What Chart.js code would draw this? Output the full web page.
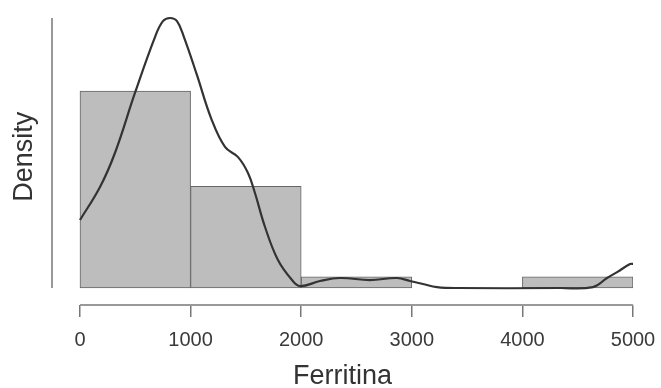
<!DOCTYPE html>
<html>
<head>
<meta charset="utf-8">
<script src="https://cdn.jsdelivr.net/npm/chart.js@4"></script>
<style>
  html, body { margin: 0; padding: 0; background: #fff; }
  canvas { display: block; }
</style>
</head>
<body>
<canvas id="histChart" width="661" height="388"></canvas>
<script>
const CHART = document.getElementById("histChart");

// histogram bins (Ferritina) and their densities
var binEdges = [0, 1000, 2000, 3000, 4000, 5000];
var binDensity = [0.00062, 0.00032, 0.000035, 0, 0.000035];

// kernel density curve, read along the x axis
var kdeX = [0, 181, 316, 497, 678, 750, 814, 877, 940, 1058, 1185, 1311, 1429, 1519, 1582,
            1673, 1790, 1917, 1990, 2170, 2351, 2622, 2866, 2984, 3101, 3228, 3409,
            4340, 4638, 4765, 4856, 4973, 5000];
var kdeY = [0.000214, 0.000318, 0.000425, 0.000614, 0.00079, 0.00084, 0.00085, 0.00084,
            0.00079, 0.00067, 0.000535, 0.000444, 0.000412, 0.000362, 0.000299,
            0.000192, 0.000088, 0.000025, 0.000006, 0.000022, 0.0000315, 0.000025,
            0.0000315, 0.000022, 0.0000126, 0.000003, 0,
            0, 0.000003, 0.0000315, 0.00005, 0.0000755, 0.000076];

var xTicks = [0, 1000, 2000, 3000, 4000, 5000];
var yTop = 0.00085;

var barData = binDensity.map(function (d, i) {
  return { x: (binEdges[i] + binEdges[i + 1]) / 2, y: d };
});
var lineData = kdeX.map(function (x, i) {
  return { x: x, y: kdeY[i] };
});

// R style axes: lines only span the data range, offset from the plot
var rAxes = {
  id: "rAxes",
  afterDraw: function (chart) {
    var ctx = chart.ctx;
    var xs = chart.scales.x, ys = chart.scales.y;
    var area = chart.chartArea;
    ctx.save();
    ctx.strokeStyle = "#999";
    ctx.lineWidth = 2;
    ctx.beginPath();
    ctx.moveTo(xs.getPixelForValue(xTicks[0]), area.bottom);
    ctx.lineTo(xs.getPixelForValue(xTicks[xTicks.length - 1]), area.bottom);
    ctx.stroke();
    ctx.beginPath();
    ctx.moveTo(area.left, ys.getPixelForValue(0));
    ctx.lineTo(area.left, ys.getPixelForValue(yTop));
    ctx.stroke();
    ctx.restore();
  }
};

let histChart = new Chart(CHART, {
  type: "bar",
  data: {
    datasets: [
      {
        type: "line",
        label: "density",
        data: lineData,
        borderColor: "#333",
        borderWidth: 2.2,
        pointRadius: 0,
        fill: false,
        tension: 0.4,
        order: 1
      },
      {
        label: "Ferritina",
        data: barData,
        backgroundColor: "#bdbdbd",
        borderColor: "#666",
        borderWidth: 1,
        borderSkipped: false,
        barPercentage: 1,
        categoryPercentage: 1,
        grouped: false,
        order: 2
      }
    ]
  },
  options: {
    responsive: false,
    animation: false,
    devicePixelRatio: 1,
    layout: { padding: { top: 8.47, right: 28, left: 0, bottom: 0 } },
    plugins: {
      legend: { display: false },
      tooltip: { enabled: false }
    },
    scales: {
      x: {
        type: "linear",
        offset: false,
        min: -253,
        max: 5000,
        afterBuildTicks: function (s) {
          s.ticks = xTicks.map(function (v) { return { value: v }; });
        },
        afterFit: function (s) {
          s.height = 83;
          s.paddingLeft = 0;
          s.paddingRight = 0;
        },
        border: { display: false },
        grid: {
          offset: false,
          drawOnChartArea: false,
          drawTicks: true,
          tickLength: 12,
          color: "#777",
          lineWidth: 1.5
        },
        ticks: {
          color: "#3a3a3a",
          padding: 11,
          maxRotation: 0,
          autoSkip: false,
          callback: function (v) { return String(v); },
          font: { family: "'Liberation Sans', Arial, sans-serif", size: 20 }
        },
        title: {
          display: true,
          text: "Ferritina",
          color: "#333",
          padding: 0,
          font: { family: "'Liberation Sans', Arial, sans-serif", size: 27, lineHeight: 0.85 }
        }
      },
      y: {
        type: "linear",
        min: -0.0000535,
        max: 0.00088,
        afterFit: function (s) { s.width = 52; },
        border: { display: false },
        grid: { display: false },
        ticks: { display: false },
        title: {
          display: true,
          text: "Density",
          color: "#333",
          padding: { top: 11.5, bottom: 0 },
          font: { family: "'Liberation Sans', Arial, sans-serif", size: 27, lineHeight: 1 }
        }
      }
    }
  },
  plugins: [rAxes]
});
</script>
</body>
</html>
